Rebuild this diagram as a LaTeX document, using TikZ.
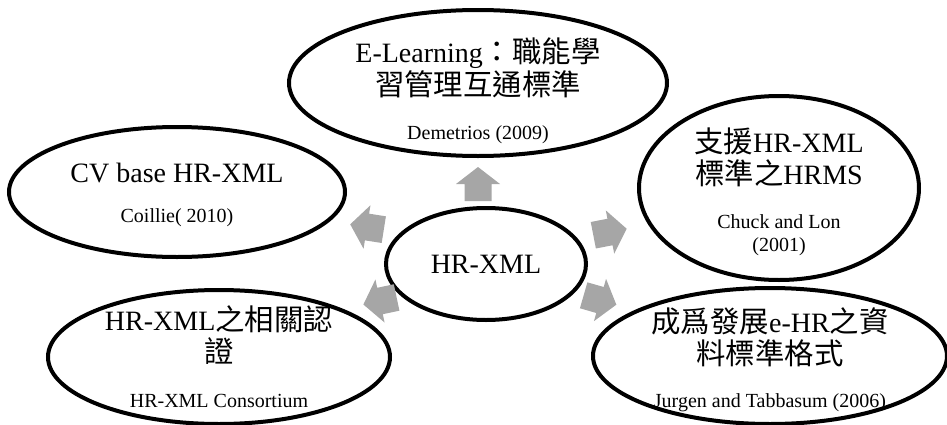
\documentclass[tikz,border=0pt]{standalone}
\usepackage{fontspec}
\setmainfont{Liberation Serif}
\newfontfamily\cjk{Noto Sans CJK TC}[Scale=1.05]
\usetikzlibrary{shapes.geometric}
\definecolor{arrowgray}{HTML}{A6A6A6}
\newcommand{\srcfont}{\fontsize{15}{17}\selectfont}

\begin{document}
\begin{tikzpicture}[x=0.75pt, y=-0.75pt,
    bubble/.style={draw, ellipse, line width=3pt, inner sep=0pt},
    bubbletext/.style={align=center, inner sep=0pt, font=\fontsize{21}{24}\selectfont}]

    \useasboundingbox (0,0) rectangle (947,425);

    % Draw the bubbles
    \node[bubble, minimum width=283.5pt, minimum height=109.5pt] (learn) at (478,83) {};
    \node[bubble, minimum width=252pt, minimum height=97.5pt] (cv) at (177,192) {};
    \node[bubble, minimum width=210pt, minimum height=138pt] (hrms) at (779,188) {};
    \node[bubble, minimum width=150pt, minimum height=84pt] (hr) at (486,264) {};
    \node[bubble, minimum width=256.5pt, minimum height=100.5pt] (cert) at (219,357) {};
    \node[bubble, minimum width=265.5pt, minimum height=102pt] (format) at (770,356) {};

    % Texts in the bubbles
    \node[bubbletext] (learn-t) at ([yshift=-6pt]learn.center) {E-Learning{\cjk ：職能學}\\[1pt]{\cjk 習管理互通標準}\\[9pt]{\srcfont Demetrios (2009)}};
    \node[bubbletext] (cv-t) at ([yshift=-2pt]cv.center) {CV base HR-XML\\[6pt]{\srcfont Coillie( 2010)}};
    \node[bubbletext] (hrms-t) at ([yshift=-3pt]hrms.center) {{\cjk 支援}HR-XML\\{\cjk 標準之}HRMS\\[9pt]{\srcfont Chuck and Lon}\\[-7pt]{\srcfont (2001)}};
    \node[bubbletext] (hr-t) at (hr.center) {HR-XML};
    \node[bubbletext] (cert-t) at (cert.center) {HR-XML{\cjk 之相關認}\\{\cjk 證}\\[10pt]{\srcfont HR-XML Consortium}};
    \node[bubbletext] (format-t) at ([yshift=-3pt]format.center) {{\cjk 成爲發展}e-HR{\cjk 之資}\\{\cjk 料標準格式}\\[8pt]{\srcfont Jurgen and Tabbasum (2006)}};

    % Gray block arrows round the centre
    \foreach \p/\a in {(478,184)/90, (367,227)/171, (610,232)/11, (380,301)/192, (600,300)/-16}
        \fill[arrowgray, shift={\p}, rotate=\a] (-17,-13.5) -- (0,-13.5) -- (0,-22) -- (17,0)
            -- (0,22) -- (0,13.5) -- (-17,13.5) -- cycle;

\end{tikzpicture}
\end{document}
